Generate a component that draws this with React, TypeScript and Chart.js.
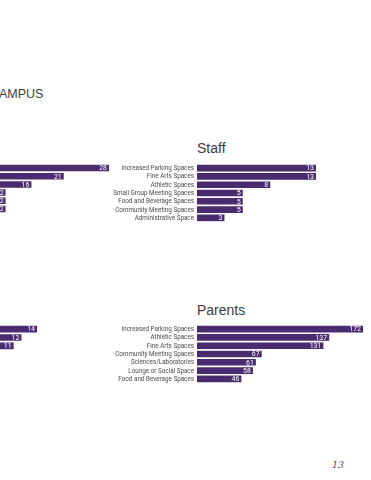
import React, { useEffect, useRef } from "react";
import { Chart, registerables } from "chart.js";

Chart.register(...registerables);

// ---- Data ----
const staffLabels = [
  "Increased Parking Spaces",
  "Fine Arts Spaces",
  "Athletic Spaces",
  "Small Group Meeting Spaces",
  "Food and Beverage Spaces",
  "Community Meeting Spaces",
  "Administrative Space",
];
const staffValues = [13, 13, 8, 5, 5, 5, 3];

const parentLabels = [
  "Increased Parking Spaces",
  "Athletic Spaces",
  "Fine Arts Spaces",
  "Community Meeting Spaces",
  "Sciences/Laboratories",
  "Lounge or Social Space",
  "Food and Beverage Spaces",
];
const parentValues = [172, 137, 131, 67, 61, 58, 46];

// Left-hand charts are cut off by the page crop; only their bars show.
const leftTopLabels = ["Row 1", "Row 2", "Row 3", "Row 4", "Row 5", "Row 6"];
const leftTopValues = [28, 21, 16, 12, 12, 12];

const leftBottomLabels = ["Row 1", "Row 2", "Row 3"];
const leftBottomValues = [14, 12, 11];

const BAR_COLOR = "#4b2b6f";
const LABEL_FONT = "6.3px 'Roboto', 'Liberation Sans', sans-serif";

const labelPlugin = {
  id: "barLabels",
  afterDatasetsDraw(chart: any) {
    const ctx = chart.ctx;
    const meta = chart.getDatasetMeta(0);
    const data = chart.data.datasets[0].data;
    const labels = chart.data.labels;
    const showCats = chart.options.plugins.barLabels?.showCats;
    const left = chart.chartArea.left;
    ctx.save();
    ctx.textBaseline = "middle";
    meta.data.forEach((bar: any, i: number) => {
      ctx.font = "7px 'Roboto', sans-serif";
      ctx.fillStyle = "#ffffff";
      ctx.textAlign = "right";
      ctx.fillText(String(data[i]), bar.x - 2, bar.y + 0.5);
      if (showCats) {
        ctx.font = LABEL_FONT;
        ctx.fillStyle = "#4a4a4a";
        ctx.fillText(String(labels[i]), left - 3, bar.y + 0.5);
      }
    });
    ctx.restore();
  },
};

type BarProps = {
  labels: string[];
  values: number[];
  max: number;
  showLabels: boolean;
  axisWidth: number;
  left: number;
  top: number;
  width: number;
  height: number;
};

function BarChart(p: BarProps) {
  const ref = useRef<HTMLCanvasElement | null>(null);
  useEffect(() => {
    if (!ref.current) return;
    const chart = new Chart(ref.current, {
      type: "bar",
      data: {
        labels: p.labels,
        datasets: [
          {
            data: p.values,
            backgroundColor: BAR_COLOR,
            barPercentage: 0.8,
            categoryPercentage: 1,
          },
        ],
      },
      options: {
        indexAxis: "y",
        responsive: false,
        animation: false,
        devicePixelRatio: 1,
        layout: { padding: { left: p.axisWidth, right: 0, top: 0, bottom: 0 } },
        plugins: {
          legend: { display: false },
          tooltip: { enabled: false },
          barLabels: { showCats: p.showLabels },
        },
        scales: {
          x: { display: false, min: 0, max: p.max },
          y: { display: false },
        },
      },
      plugins: [labelPlugin],
    } as any);
    return () => chart.destroy();
  }, []);
  return (
    <canvas
      ref={ref}
      width={p.width}
      height={p.height}
      style={{ position: "absolute", left: p.left, top: p.top, width: p.width, height: p.height }}
    />
  );
}

const titleStyle: React.CSSProperties = {
  position: "absolute",
  fontFamily: "'Liberation Sans', Arial, sans-serif",
  fontSize: 14,
  lineHeight: "14px",
  color: "#3c3c3c",
  whiteSpace: "nowrap",
};

export default function App() {
  useEffect(() => {
    document.body.style.margin = "0";
  }, []);
  return (
    <div
      style={{
        position: "absolute",
        left: 0,
        top: 0,
        width: 371,
        height: 480,
        overflow: "hidden",
        background: "#ffffff",
      }}
    >
      <div style={{ ...titleStyle, left: -1, top: 88, fontSize: 12.5, lineHeight: "12.5px" }}>AMPUS</div>
      <div style={{ ...titleStyle, left: 197, top: 141 }}>Staff</div>
      <div style={{ ...titleStyle, left: 197, top: 303 }}>Parents</div>

      <BarChart labels={leftTopLabels} values={leftTopValues} max={28} showLabels={false} axisWidth={0}
        left={-72} top={164} width={181} height={49} />
      <BarChart labels={staffLabels} values={staffValues} max={13} showLabels={true} axisWidth={97}
        left={100} top={164} width={216} height={58} />
      <BarChart labels={leftBottomLabels} values={leftBottomValues} max={14} showLabels={false} axisWidth={0}
        left={-72} top={325} width={109} height={25} />
      <BarChart labels={parentLabels} values={parentValues} max={172} showLabels={true} axisWidth={97}
        left={100} top={325} width={263} height={58} />

      <div
        style={{
          position: "absolute",
          left: 332,
          top: 459,
          fontFamily: "'DejaVu Serif', 'Liberation Serif', serif",
          fontStyle: "italic",
          fontSize: 9.5,
          color: "#5a4c6a",
        }}
      >
        13
      </div>
    </div>
  );
}
